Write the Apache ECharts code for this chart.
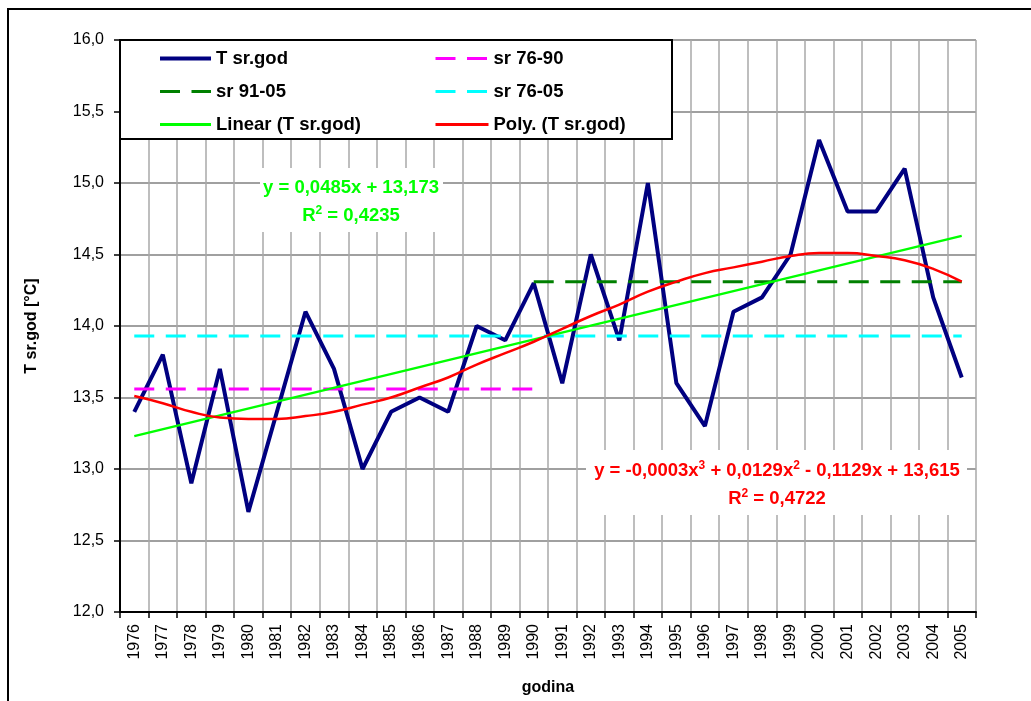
<!DOCTYPE html>
<html>
<head>
<meta charset="utf-8">
<script src="https://cdn.jsdelivr.net/npm/echarts@6/dist/echarts.min.js"></script>
<style>
html, body { margin: 0; padding: 0; background: #fff; }
#chart { width: 1031px; height: 701px; }
</style>
</head>
<body>
<div id="chart"></div>
<script>
const years = ['1976', '1977', '1978', '1979', '1980', '1981', '1982', '1983', '1984', '1985',
    '1986', '1987', '1988', '1989', '1990', '1991', '1992', '1993', '1994', '1995',
    '1996', '1997', '1998', '1999', '2000', '2001', '2002', '2003', '2004', '2005']

// mean annual temperature
const tSrGod = [13.4, 13.8, 12.9, 13.7, 12.7, 13.4, 14.1, 13.7, 13.0, 13.4,
    13.5, 13.4, 14.0, 13.9, 14.3, 13.6, 14.5, 13.9, 15.0, 13.6,
    13.3, 14.1, 14.2, 14.5, 15.3, 14.8, 14.8, 15.1, 14.2, 13.64]

// period averages
const sr7690 = 13.56
const sr9105 = 14.31
const sr7605 = 13.93

// linear trend end points
const linStart = 13.23
const linEnd = 14.63

// polynomial trend
const polyVals = [13.51, 13.46, 13.40, 13.36, 13.35, 13.35, 13.37, 13.40, 13.45, 13.50,
    13.57, 13.64, 13.73, 13.81, 13.89, 13.98, 14.07, 14.15, 14.24, 14.31,
    14.37, 14.41, 14.45, 14.49, 14.51, 14.51, 14.49, 14.46, 14.40, 14.31]

const font = 'Liberation Sans, Arial, sans-serif'
const dash = [20, 11.5]

const chart = echarts.init(document.getElementById('chart'))

const legendText = { fontFamily: font, fontSize: 18.5, fontWeight: 'bold', color: '#000', lineHeight: 18 }

const eqRich = (color) => ({
    a: { fontFamily: font, fontSize: 18.5, fontWeight: 'bold', fill: color, lineHeight: 28 },
    s: { fontFamily: font, fontSize: 12, fontWeight: 'bold', fill: color, lineHeight: 28, verticalAlign: 'top', padding: [3, 0, 0, 0] }
})

const option = {
    animation: false,
    backgroundColor: '#fff',
    grid: { left: 120, top: 40, right: 55, bottom: 81, show: true, backgroundColor: '#fff', borderWidth: 0 },
    legend: [
        {
            orient: 'vertical', left: 158, top: 49, padding: 0, itemWidth: 51, itemHeight: 14, itemGap: 14,
            itemStyle: { opacity: 0 },
            data: [
                { name: 'T sr.god', lineStyle: { width: 4 } },
                { name: 'sr 91-05', lineStyle: { width: 3, type: dash } },
                { name: 'Linear (T sr.god)', lineStyle: { width: 3 } }
            ],
            textStyle: legendText, z: 6
        },
        {
            orient: 'vertical', left: 434, top: 49, padding: 0, itemWidth: 53, itemHeight: 14, itemGap: 14,
            itemStyle: { opacity: 0 },
            data: [
                { name: 'sr 76-90', lineStyle: { width: 3, type: dash } },
                { name: 'sr 76-05', lineStyle: { width: 3, type: dash } },
                { name: 'Poly. (T sr.god)', lineStyle: { width: 3 } }
            ],
            textStyle: legendText, z: 6
        }
    ],
    graphic: [
        { type: 'rect', shape: { x: 8, y: 9, width: 1040, height: 700 }, style: { fill: null, stroke: '#000', lineWidth: 2 }, z: 0 },
        { type: 'rect', shape: { x: 120, y: 40, width: 552, height: 99 }, style: { fill: '#fff', stroke: '#000', lineWidth: 2 }, z: 5 },
        { type: 'rect', shape: { x: 260, y: 168, width: 183, height: 64 }, style: { fill: '#fff' }, z: 1 },
        { type: 'rect', shape: { x: 586, y: 450, width: 381, height: 65 }, style: { fill: '#fff' }, z: 1 },
        {
            type: 'text', x: 351, y: 174, z: 6,
            style: {
                text: '{a|y = 0,0485x + 13,173}\n{a|R}{s|2}{a| = 0,4235}',
                align: 'center',
                rich: eqRich('#00ff00')
            }
        },
        {
            type: 'text', x: 777, y: 457, z: 6,
            style: {
                text: '{a|y = -0,0003x}{s|3}{a| + 0,0129x}{s|2}{a| - 0,1129x + 13,615}\n{a|R}{s|2}{a| = 0,4722}',
                align: 'center',
                rich: eqRich('#ff0000')
            }
        }
    ],
    xAxis: {
        type: 'category',
        data: years,
        boundaryGap: true,
        name: 'godina',
        nameLocation: 'middle',
        nameGap: 68,
        nameTextStyle: { fontFamily: font, fontSize: 16, fontWeight: 'bold', color: '#000' },
        axisLine: { lineStyle: { color: '#000', width: 2 } },
        axisTick: { show: true, interval: 0, length: 6, lineStyle: { color: '#000', width: 1.5 } },
        axisLabel: { rotate: 90, interval: 0, margin: 12, fontFamily: font, fontSize: 16, color: '#000' },
        splitLine: { show: true, interval: 0, lineStyle: { color: '#a8a8a8', width: 1.5 } }
    },
    yAxis: {
        type: 'value',
        min: 12,
        max: 16,
        interval: 0.5,
        name: 'T sr.god [°C]',
        nameLocation: 'middle',
        nameGap: 80,
        nameTextStyle: { fontFamily: font, fontSize: 16, fontWeight: 'bold', color: '#000' },
        axisLine: { show: true, lineStyle: { color: '#000', width: 2 } },
        axisTick: { show: true, length: 6, lineStyle: { color: '#000', width: 1.5 } },
        axisLabel: {
            margin: 16, fontFamily: font, fontSize: 16, color: '#000',
            formatter: v => v.toFixed(1).replace('.', ',')
        },
        splitLine: { show: true, lineStyle: { color: '#808080', width: 1.5 } }
    },
    series: [
        {
            name: 'T sr.god', type: 'line', data: tSrGod, symbol: 'none', z: 2,
            itemStyle: { color: '#000080' },
            lineStyle: { color: '#000080', width: 4 }
        },
        {
            name: 'sr 76-90', type: 'line', symbol: 'none', z: 3,
            data: [[years[0], sr7690], ['1990', sr7690]],
            itemStyle: { color: '#ff00ff' },
            lineStyle: { color: '#ff00ff', width: 3, type: dash }
        },
        {
            name: 'sr 91-05', type: 'line', symbol: 'none', z: 3,
            data: [['1990', sr9105], [years[years.length - 1], sr9105]],
            itemStyle: { color: '#008000' },
            lineStyle: { color: '#008000', width: 3, type: dash }
        },
        {
            name: 'sr 76-05', type: 'line', symbol: 'none', z: 3,
            data: [[years[0], sr7605], [years[years.length - 1], sr7605]],
            itemStyle: { color: '#00ffff' },
            lineStyle: { color: '#00ffff', width: 3, type: dash }
        },
        {
            name: 'Linear (T sr.god)', type: 'line', symbol: 'none', z: 3,
            data: [[years[0], linStart], [years[years.length - 1], linEnd]],
            itemStyle: { color: '#00ff00' },
            lineStyle: { color: '#00ff00', width: 2.5 }
        },
        {
            name: 'Poly. (T sr.god)', type: 'line', symbol: 'none', z: 3, smooth: true,
            data: polyVals,
            itemStyle: { color: '#ff0000' },
            lineStyle: { color: '#ff0000', width: 2.5 }
        }
    ]
}

chart.setOption(option)
</script>
</body>
</html>
